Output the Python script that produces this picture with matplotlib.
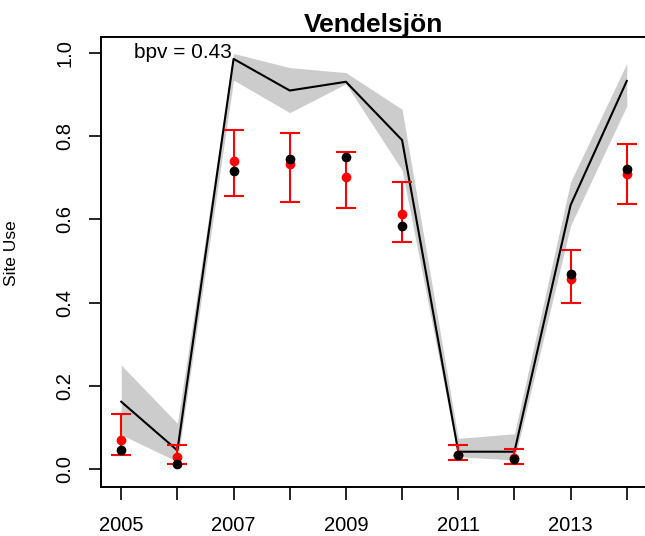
import matplotlib
matplotlib.use("Agg")
import matplotlib.pyplot as plt
import numpy as np

plt.rcParams['font.family'] = ['Liberation Sans', 'DejaVu Sans']

years = [2005, 2006, 2007, 2008, 2009, 2010, 2011, 2012, 2013, 2014]
pred_mean = [0.162, 0.045, 0.985, 0.909, 0.930, 0.790, 0.042, 0.042, 0.634, 0.932]
pred_lower = [0.083, 0.018, 0.934, 0.856, 0.925, 0.718, 0.030, 0.022, 0.585, 0.872]
pred_upper = [0.250, 0.110, 0.998, 0.964, 0.952, 0.864, 0.074, 0.085, 0.690, 0.974]
obs_red = [0.070, 0.029, 0.741, 0.732, 0.701, 0.612, 0.034, 0.026, 0.456, 0.708]
obs_red_lo = [0.034, 0.013, 0.657, 0.642, 0.626, 0.545, 0.022, 0.012, 0.398, 0.637]
obs_red_hi = [0.132, 0.057, 0.814, 0.806, 0.762, 0.690, 0.058, 0.048, 0.526, 0.780]
obs_black = [0.046, 0.013, 0.716, 0.744, 0.750, 0.584, 0.035, 0.024, 0.468, 0.720]
xtick_labels = ['2005', '', '2007', '', '2009', '', '2011', '', '2013', '']
yticks = [0.0, 0.2, 0.4, 0.6, 0.8, 1.0]
title = "Vendelsjön"
bpv_text = "bpv = 0.43"

fig = plt.figure(figsize=(6.45, 5.36), dpi=100)
ax = fig.add_axes([101/645, 1-486.7/536, (647-101)/645, (486.7-37)/536])

ax.fill_between(years, pred_lower, pred_upper, color='#CCCCCC', linewidth=0, zorder=1)
ax.plot(years, pred_mean, color='black', linewidth=1.5, zorder=2)

red = np.array(obs_red)
yerr = np.vstack([red - np.array(obs_red_lo), np.array(obs_red_hi) - red])
ax.errorbar(years, obs_red, yerr=yerr, fmt='o', color='red', ecolor='red',
            markersize=6, capsize=7.5, elinewidth=1.5, capthick=1.5, zorder=3)
ax.plot(years, obs_black, 'o', color='black', markersize=6, zorder=4)

ax.set_xlim(2004.64, 2014.36)
ax.set_ylim(-0.042, 1.0375)
ax.set_xticks(years)
ax.set_xticklabels(xtick_labels)
ax.set_yticks(yticks)
ax.set_yticklabels([f"{v:.1f}" for v in yticks], rotation=90, va='center')
ax.tick_params(axis='both', direction='out', length=9, width=1.2, labelsize=14.5, color='black')
ax.tick_params(axis='x', pad=12)
ax.tick_params(axis='y', pad=10)
for s in ax.spines.values():
    s.set_linewidth(1.4)

ax.set_ylabel("Site Use", fontsize=12.5)
ax.yaxis.set_label_coords(-0.150, 0.52)
ax.set_title(title, fontsize=19, fontweight='bold', pad=3)
ax.text(2006.1, 1.0, bpv_text, fontsize=15, ha='center', va='center', zorder=5)

fig.savefig("out.png", dpi=100)
